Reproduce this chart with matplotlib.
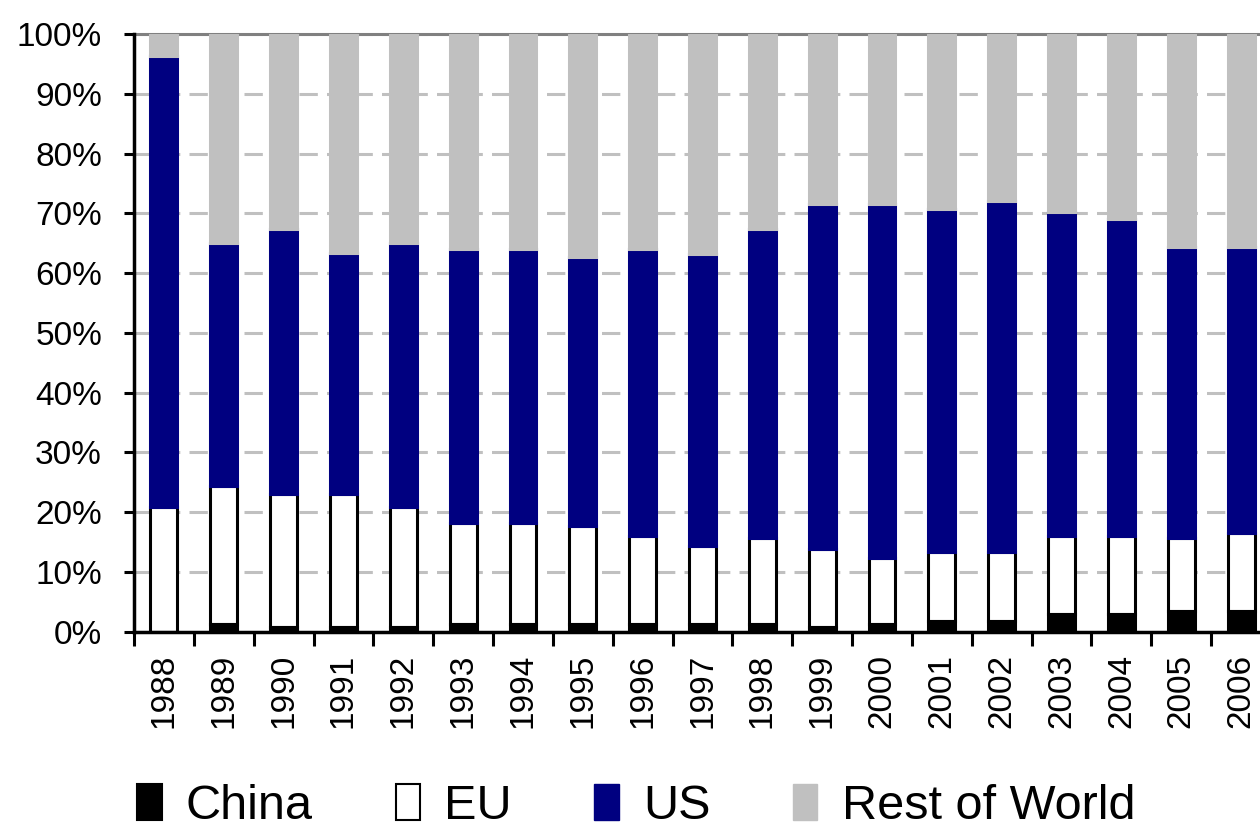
import matplotlib
matplotlib.use("Agg")
import matplotlib.pyplot as plt
from matplotlib.patches import Patch
import numpy as np

plt.rcParams['font.family'] = ['Liberation Sans', 'DejaVu Sans']

years = ['1988', '1989', '1990', '1991', '1992', '1993', '1994', '1995', '1996', '1997',
         '1998', '1999', '2000', '2001', '2002', '2003', '2004', '2005', '2006']

# shares in percent
china = [0.0, 1.3, 0.8, 0.8, 0.8, 1.3, 1.3, 1.3, 1.3, 1.3,
         1.3, 0.8, 1.3, 1.8, 1.8, 2.9, 2.9, 3.4, 3.4]
eu = [20.8, 23.1, 22.2, 22.2, 20.0, 16.9, 16.9, 16.4, 14.7, 13.1,
      14.3, 13.1, 11.0, 11.6, 11.6, 13.1, 13.1, 12.2, 13.1]
us = [75.5, 40.6, 44.4, 40.4, 44.2, 45.8, 45.8, 45.0, 48.0, 48.8,
      51.7, 57.6, 59.2, 57.4, 58.7, 54.2, 53.1, 48.7, 47.8]
rest = [3.7, 35.0, 32.6, 36.6, 35.0, 36.0, 36.0, 37.3, 36.0, 36.8,
        32.7, 28.5, 28.5, 29.2, 27.9, 29.8, 30.9, 35.7, 35.7]

c_china = 'black'
c_eu = 'white'
c_us = '#000080'
c_rest = '#c0c0c0'

fig = plt.figure(figsize=(12.6, 8.4), dpi=100)
ax = fig.add_axes([134 / 1260, 1 - 631.7 / 840, 1137 / 1260, 597.7 / 840])

x = np.arange(len(years))
w = 0.45
lw = 2.2
b1 = np.array(china)
b2 = b1 + np.array(eu)
b3 = b2 + np.array(us)

ax.bar(x, eu, w, bottom=b1, color=c_eu, edgecolor='black', linewidth=lw, zorder=2)
ax.bar(x, china, w, color=c_china, edgecolor=c_china, linewidth=lw, zorder=3)
ax.bar(x, us, w, bottom=b2, color=c_us, edgecolor=c_us, linewidth=lw, zorder=3)
ax.bar(x, rest, w, bottom=b3, color=c_rest, edgecolor=c_rest, linewidth=lw, zorder=3)

ax.set_xlim(-0.5, len(years) - 0.5)
ax.set_ylim(0, 100)

ax.set_yticks(np.arange(0, 101, 10))
ax.set_yticklabels([f'{v}%' for v in range(0, 101, 10)], fontsize=24)
ax.yaxis.grid(True, color='#c0c0c0', linewidth=2.2, linestyle=(0, (6, 3)), zorder=0)
ax.set_axisbelow(True)

ax.set_xticks(np.arange(-0.5, len(years), 1))
ax.set_xticklabels([])
ax.set_xticks(x, minor=True)
ax.set_xticklabels(years, minor=True, rotation=90, fontsize=24, va='top')
ax.tick_params(axis='x', which='major', length=10, width=2.2, direction='out')
ax.tick_params(axis='x', which='minor', length=0, pad=16)
ax.tick_params(axis='y', length=7, width=2.2, direction='out', pad=16)

for s in ['left', 'bottom']:
    ax.spines[s].set_linewidth(2.5)
    ax.spines[s].set_color('black')
    ax.spines[s].set_zorder(4)
ax.spines['top'].set_color('#808080')
ax.spines['top'].set_linewidth(2.2)
ax.spines['right'].set_visible(False)

handles = [Patch(facecolor=c_china, edgecolor='black', linewidth=1.5),
           Patch(facecolor=c_eu, edgecolor='black', linewidth=1.5),
           Patch(facecolor=c_us, edgecolor=c_us),
           Patch(facecolor=c_rest, edgecolor=c_rest)]
fig.legend(handles, ['China', 'EU', 'US', 'Rest of World'], loc='lower center',
           bbox_to_anchor=(0.505, -0.016), ncol=4, frameon=False, fontsize=35,
           handlelength=0.5, handleheight=0.75, handletextpad=0.5,
           columnspacing=1.7, borderpad=0)

fig.savefig('out.png', dpi=100)
